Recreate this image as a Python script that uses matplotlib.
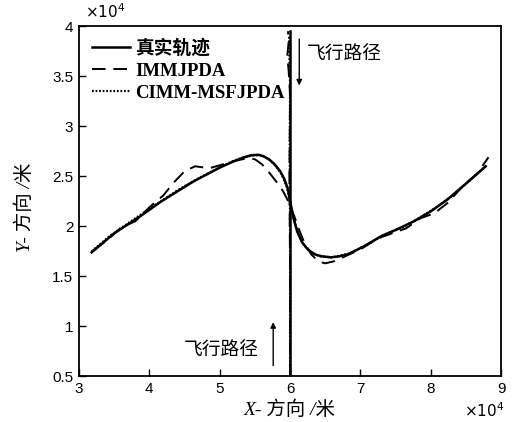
import matplotlib
matplotlib.use("Agg")
import matplotlib.pyplot as plt
from matplotlib.ticker import FormatStrFormatter

plt.rcParams['font.family'] = ['Liberation Serif', 'Noto Sans CJK SC']

# target 1 (x, y in units of 1e4 m)
true_x = [3.18, 3.5, 3.87, 4.15, 4.4, 4.63, 5.01, 5.2, 5.35, 5.45, 5.55, 5.62, 5.7,
          5.78, 5.86, 5.92, 5.97, 6.0, 6.05, 6.1, 6.17, 6.25, 6.35, 6.45, 6.58, 6.7,
          6.82, 7.05, 7.29, 7.52, 7.76, 8.0, 8.24, 8.57, 8.78]
true_y = [1.74, 1.93, 2.10, 2.24, 2.35, 2.45, 2.59, 2.65, 2.69, 2.71, 2.715, 2.70, 2.67,
          2.62, 2.55, 2.47, 2.37, 2.25, 2.08, 1.95, 1.84, 1.77, 1.72, 1.70, 1.69, 1.70,
          1.72, 1.80, 1.90, 1.97, 2.05, 2.15, 2.27, 2.47, 2.60]

imm_x = [3.2, 3.4, 3.6, 3.8, 4.0, 4.2, 4.35, 4.5, 4.65, 4.85, 5.05, 5.25, 5.4, 5.5,
         5.6, 5.7, 5.8, 5.9, 5.96, 6.0, 6.06, 6.12, 6.2, 6.3, 6.4, 6.5, 6.62, 6.75,
         7.0, 7.25, 7.45, 7.65, 7.85, 8.05, 8.25, 8.45, 8.65, 8.82]
imm_y = [1.76, 1.86, 1.99, 2.05, 2.19, 2.31, 2.44, 2.55, 2.60, 2.58, 2.62, 2.66, 2.68,
         2.67, 2.62, 2.54, 2.45, 2.35, 2.27, 2.20, 2.10, 1.98, 1.84, 1.72, 1.65, 1.63,
         1.65, 1.69, 1.77, 1.88, 1.93, 1.98, 2.08, 2.13, 2.24, 2.40, 2.52, 2.69]

cimm_x = [3.18, 3.45, 3.8, 4.1, 4.4, 4.7, 5.0, 5.25, 5.4, 5.5, 5.6, 5.7, 5.8, 5.88,
          5.95, 6.0, 6.05, 6.12, 6.2, 6.3, 6.42, 6.6, 6.85, 7.1, 7.35, 7.6, 7.85,
          8.1, 8.35, 8.6, 8.78]
cimm_y = [1.75, 1.91, 2.08, 2.22, 2.36, 2.48, 2.59, 2.67, 2.70, 2.71, 2.71, 2.67, 2.60,
          2.52, 2.40, 2.24, 2.07, 1.92, 1.81, 1.74, 1.70, 1.69, 1.73, 1.82, 1.92, 1.99,
          2.09, 2.20, 2.33, 2.49, 2.60]

# target 2 (vertical flight path at x = 6e4 m)
true2_x = [6.0, 6.0]
true2_y = [0.5, 3.95]
imm2_x = [6.0, 6.0, 5.99, 6.0, 5.98, 5.96, 5.98, 5.97]
imm2_y = [0.5, 1.5, 2.5, 3.3, 3.55, 3.7, 3.85, 3.95]
cimm2_x = [6.0, 6.0, 5.995, 6.0, 5.99, 5.985]
cimm2_y = [0.5, 1.8, 2.8, 3.4, 3.7, 3.9]

fig = plt.figure(figsize=(5.13, 4.22), dpi=100)
ax = fig.add_axes([0.154, 0.108, 0.823, 0.83])

l1, = ax.plot(true_x, true_y, color='black', lw=1.8)
ax.plot(true2_x, true2_y, color='black', lw=1.8)
l2, = ax.plot(imm_x, imm_y, color='black', lw=1.4, ls=(0, (7, 4)))
ax.plot(imm2_x, imm2_y, color='black', lw=1.4, ls=(0, (7, 4)))
l3, = ax.plot(cimm_x, cimm_y, color='black', lw=1.6, ls=(0, (0.8, 0.8)))
ax.plot(cimm2_x, cimm2_y, color='black', lw=1.6, ls=(0, (0.8, 0.8)))

ax.set_xlim(3, 9)
ax.set_ylim(0.5, 4)
ax.set_xticks([3, 4, 5, 6, 7, 8, 9])
ax.set_yticks([0.5, 1, 1.5, 2, 2.5, 3, 3.5, 4])
ax.yaxis.set_major_formatter(FormatStrFormatter('%g'))
ax.tick_params(direction='in', length=5, width=1, labelsize=11, pad=4)
for lab in ax.get_xticklabels() + ax.get_yticklabels():
    lab.set_family('Liberation Sans')
for sp in ax.spines.values():
    sp.set_linewidth(1.3)

ax.text(0.015, 1.015, r'$\times10^4$', transform=ax.transAxes, fontsize=11,
        family='Liberation Sans', ha='left', va='bottom')
ax.text(1.008, -0.072, r'$\times10^4$', transform=ax.transAxes, fontsize=11,
        family='Liberation Sans', ha='right', va='top')

fig.text(0.565, 0.03, 'X- 方向 /米', fontsize=14, ha='center', va='center',
         style='italic')
fig.text(0.048, 0.51, 'Y- 方向 /米', fontsize=14, ha='center', va='center',
         rotation=90, style='italic')

leg = ax.legend([l1, l2, l3], ['真实轨迹', 'IMMJPDA', 'CIMM-MSFJPDA'],
                loc='upper left', frameon=False, handlelength=2.0,
                handletextpad=0.3, labelspacing=0.25, borderaxespad=0.3,
                prop={'family': ['Liberation Serif', 'Noto Sans CJK SC'],
                      'size': 13.5, 'weight': 'bold'})

ax.annotate('', xy=(6.13, 3.38), xytext=(6.13, 3.9),
            arrowprops=dict(arrowstyle='-|>', color='black', lw=1, mutation_scale=8))
ax.text(6.23, 3.72, '飞行路径', fontsize=13.5, family='Noto Sans CJK SC',
        va='center', ha='left')
ax.annotate('', xy=(5.76, 1.07), xytext=(5.76, 0.58),
            arrowprops=dict(arrowstyle='-|>', color='black', lw=1, mutation_scale=8))
ax.text(5.55, 0.76, '飞行路径', fontsize=13.5, family='Noto Sans CJK SC',
        va='center', ha='right')

fig.savefig('out.png', dpi=100)
